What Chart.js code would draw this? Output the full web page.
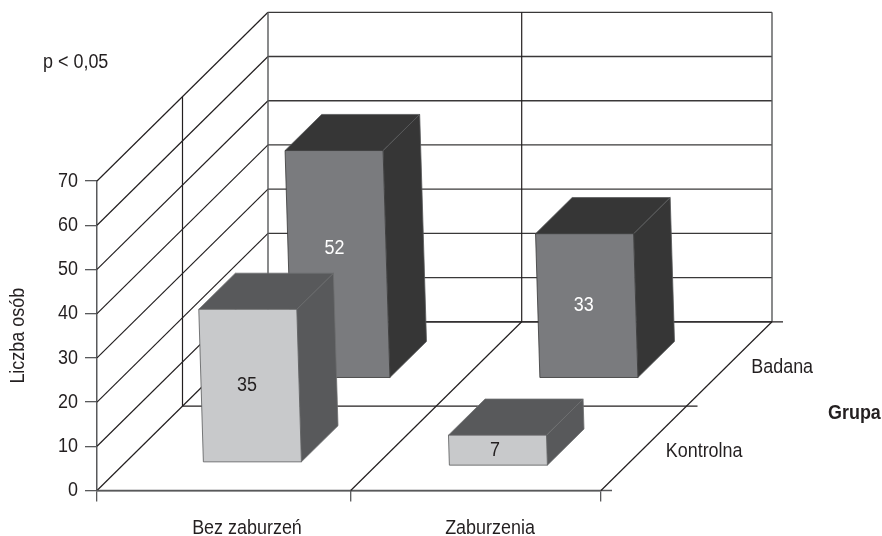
<!DOCTYPE html>
<html>
<head>
<meta charset="utf-8">
<style>
  html, body { margin: 0; background: #fff; }
  canvas { display: block; }
</style>
<script src="https://cdn.jsdelivr.net/npm/chart.js@4"></script>
</head>
<body>
<canvas id="myChart" width="882" height="536"></canvas>
<script>
const categories = ['Bez zaburzeń', 'Zaburzenia'];
const groups = ['Kontrolna', 'Badana'];
const kontrolna = [35, 7];
const badana = [52, 33];
const yTicks = [0, 10, 20, 30, 40, 50, 60, 70];
const groupTitle = 'Grupa';
const yTitle = 'Liczba osób';
const pNote = 'p < 0,05';

const FONT = '"Liberation Sans", Arial, sans-serif';
const SIZE = 20.5;
const CONDENSE = 0.875;                 // reference type is tall and narrow
const INK = '#231f20';
const AXIS = '#58595b';
const WALL_DX = 171, WALL_DY = 168.7;   // oblique offset of the back wall
const SHEAR = 0.03;                     // bars lean a little to the left
const BAR_SCALE = 0.99;                 // bars stop slightly short of the wall scale
const MID_SHIFT = 1.7;                  // middle floor division sits off centre
const rows = [
    { front: 0.166, back: 0.38, face: '#c8c9cb', dark: '#58595b', edge: '#6d6e70', text: INK, nudge: [[1, 0], [-5, 3.3]], labelUp: [0, 0] },
    { front: 0.666, back: 0.88, face: '#7a7b7e', dark: '#363636', edge: '#58595b', text: '#ffffff', nudge: [[4, 0], [0, 0]], labelUp: [16, 0] }
];

function line(ctx, x1, y1, x2, y2, color, w) {
    ctx.strokeStyle = color;
    ctx.lineWidth = w;
    ctx.beginPath();
    ctx.moveTo(x1, y1);
    ctx.lineTo(x2, y2);
    ctx.stroke();
}

function poly(ctx, pts, fill, edge) {
    ctx.beginPath();
    pts.forEach((p, i) => i ? ctx.lineTo(p[0], p[1]) : ctx.moveTo(p[0], p[1]));
    ctx.closePath();
    ctx.fillStyle = fill;
    ctx.fill();
    ctx.strokeStyle = edge;
    ctx.lineWidth = 0.8;
    ctx.stroke();
}

const walls3d = {
    id: 'walls3d',
    beforeDraw(chart) {
        // per category shift of the axis labels
        const shift = [3, -6];
        chart.scales.x.getLabelItems().forEach((it, i) => { it.options.translation[0] += shift[i]; });
    },
    beforeDatasetsDraw(chart) {
        const { ctx, scales: { x, y } } = chart;
        const left = x.getPixelForValue(-0.5), mid = x.getPixelForValue(0.5) + MID_SHIFT, right = x.getPixelForValue(1.5);
        const floor = y.getPixelForValue(0), top = y.getPixelForValue(70);
        ctx.save();
        // walls
        yTicks.forEach(v => {
            const py = y.getPixelForValue(v);
            line(ctx, left, py, left + WALL_DX, py - WALL_DY, INK, 1.2);
            line(ctx, left + WALL_DX, py - WALL_DY, right + WALL_DX, py - WALL_DY, '#3a3839', 1.3);
        });
        line(ctx, left + WALL_DX / 2, top - WALL_DY / 2, left + WALL_DX / 2, floor - WALL_DY / 2, INK, 1.2);
        line(ctx, left + WALL_DX, top - WALL_DY, left + WALL_DX, floor - WALL_DY, AXIS, 1.4);
        line(ctx, mid + WALL_DX, top - WALL_DY, mid + WALL_DX, floor - WALL_DY, INK, 1.2);
        line(ctx, right + WALL_DX, top - WALL_DY, right + WALL_DX, floor - WALL_DY, AXIS, 1.4);
        // floor
        [0, 0.5, 1].forEach(d => {
            line(ctx, left + d * WALL_DX, floor - d * WALL_DY, right + d * WALL_DX + 11, floor - d * WALL_DY, d ? INK : AXIS, d ? 1.2 : 1.5);
        });
        [mid, right].forEach(px => line(ctx, px, floor, px + WALL_DX, floor - WALL_DY, INK, 1.2));
        line(ctx, mid, floor, mid, floor + 11, AXIS, 1.3);
        // depth axis labels
        ctx.fillStyle = INK;
        ctx.font = SIZE + 'px ' + FONT;
        ctx.textBaseline = 'middle';
        ctx.textAlign = 'left';
        groups.forEach((g, i) => {
            const d = (i + 0.5) / groups.length;
            ctx.fillText(g, right + d * WALL_DX + 22, floor - d * WALL_DY + 3);
        });
        ctx.fillText(pNote, 43, 62);
        ctx.font = 'bold ' + SIZE + 'px ' + FONT;
        ctx.fillText(groupTitle, 828, 413);
        ctx.restore();
    },
    beforeDatasetDraw(chart, args) {
        const { ctx } = chart;
        const row = rows[args.index];
        const bars = args.meta.data;
        ctx.save();
        bars.forEach((bar, i) => {
            const [nx, ny] = row.nudge[i];
            const h = (bar.base - bar.y) * BAR_SCALE;
            const P = (side, depth, up) => [
                bar.x + nx + side * bar.width / 2 + depth * WALL_DX - up * SHEAR,
                bar.base + ny - depth * WALL_DY - up
            ];
            const f = row.front, b = row.back;
            poly(ctx, [P(1, f, 0), P(1, b, 0), P(1, b, h), P(1, f, h)], row.dark, row.edge);
            poly(ctx, [P(-1, f, h), P(1, f, h), P(1, b, h), P(-1, b, h)], row.dark, row.edge);
            poly(ctx, [P(-1, f, 0), P(1, f, 0), P(1, f, h), P(-1, f, h)], row.face, row.dark);
            const c = P(0, f, h / 2);
            ctx.fillStyle = row.text;
            ctx.font = SIZE + 'px ' + FONT;
            ctx.textAlign = 'center';
            ctx.textBaseline = 'middle';
            ctx.fillText(String(args.meta._dataset.data[i]), c[0] - 3, c[1] - row.labelUp[i]);
        });
        ctx.restore();
        return false;
    }
};

Chart.defaults.font.family = FONT;
Chart.defaults.font.size = SIZE;
Chart.defaults.color = INK;

const ctx2d = document.getElementById('myChart').getContext('2d');
// squeeze all text horizontally, the maxWidth argument does that for us
const plainFillText = ctx2d.fillText;
ctx2d.fillText = function (t, x, y) {
    plainFillText.call(this, t, x, y, this.measureText(t).width * CONDENSE);
};

new Chart(ctx2d, {
    type: 'bar',
    data: {
        labels: categories,
        datasets: [
            { label: groups[0], data: kontrolna, backgroundColor: rows[0].face },
            { label: groups[1], data: badana, backgroundColor: rows[1].face }
        ]
    },
    options: {
        responsive: false,
        animation: false,
        layout: { padding: { top: 181, right: 281, left: 0, bottom: 0 } },
        plugins: { legend: { display: false }, title: { display: false }, tooltip: { enabled: false } },
        datasets: { bar: { grouped: false, barPercentage: 0.389, categoryPercentage: 1 } },
        scales: {
            x: {
                afterFit(s) { s.height = 45.5; },
                grid: {
                    offset: true,
                    drawOnChartArea: false,
                    color: c => c.index === 1 ? 'transparent' : AXIS,
                    lineWidth: 1.3,
                    tickLength: 11
                },
                border: { color: AXIS, width: 1.5 },
                ticks: { labelOffset: 21, padding: 15, maxRotation: 0 }
            },
            y: {
                min: 0,
                max: 70,
                afterFit(s) { s.width = 97; },
                afterBuildTicks(s) { s.ticks = yTicks.map(v => ({ value: v })); },
                grid: { drawOnChartArea: false, color: AXIS, lineWidth: 1.3, tickLength: 12 },
                border: { color: AXIS, width: 1.5 },
                ticks: { padding: 7 },
                title: { display: true, text: yTitle, padding: { top: 6, bottom: 0 } }
            }
        }
    },
    plugins: [walls3d]
});
</script>
</body>
</html>
